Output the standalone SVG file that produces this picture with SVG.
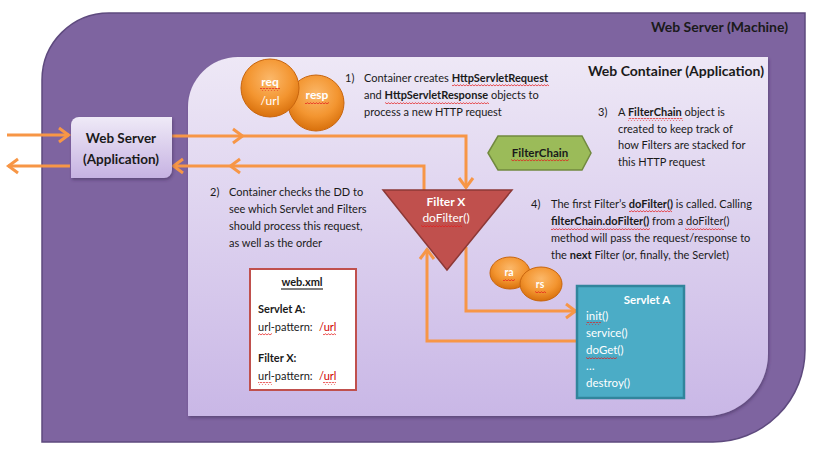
<svg xmlns="http://www.w3.org/2000/svg" width="819" height="454" viewBox="0 0 819 454">
<defs>
<style>
text{font-family:Lato,"Liberation Sans",sans-serif;fill:#1a1a1a}
.t{font-size:11px}
.b{font-weight:bold}
.title{font-size:14px;font-weight:bold}
.w{fill:#fff}
.conn{fill:none;stroke:#f79646;stroke-width:3}
.sq{fill:url(#zz)}
</style>
<pattern id="zz" patternUnits="userSpaceOnUse" width="3" height="3">
<path d="M0,2.2 L1.5,0.6 L3,2.2" fill="none" stroke="#e21b1b" stroke-width="0.8"/>
</pattern>
<linearGradient id="gInner" x1="0" y1="0" x2="0" y2="1">
<stop offset="0" stop-color="#eee8f6"/><stop offset="1" stop-color="#c9b7e6"/>
</linearGradient>
<linearGradient id="gWs" x1="0" y1="0" x2="0" y2="1">
<stop offset="0" stop-color="#efeaf7"/><stop offset="1" stop-color="#c6b2e2"/>
</linearGradient>
<radialGradient id="gOr" cx="0.5" cy="0.35" r="0.65">
<stop offset="0" stop-color="#fbb86a"/><stop offset="0.6" stop-color="#f39530"/><stop offset="1" stop-color="#d8700c"/>
</radialGradient>
<filter id="sh" x="-10%" y="-10%" width="120%" height="120%">
<feDropShadow dx="1" dy="2" stdDeviation="1.5" flood-color="#3a2a55" flood-opacity="0.5"/>
</filter>
<marker id="chev" markerUnits="userSpaceOnUse" markerWidth="20" markerHeight="20" viewBox="-12 -10 14 20" refX="0" refY="0" orient="auto">
<path d="M-10,-7 L-0.5,0 L-10,7" fill="none" stroke="#f79646" stroke-width="3"/>
</marker>
</defs>

<g id="machine">
<path d="M42,80 A67,67 0 0 1 109,13 H805 V350 A92,92 0 0 1 713,442 H42 Z" fill="#7e64a0" stroke="#5e4a7e" stroke-width="1.5"/>
<text class="title" x="788" y="32" text-anchor="end">Web Server (Machine)</text>
</g>

<g id="container">
<path d="M188,107 A50,50 0 0 1 238,57 H768 V354 A62,62 0 0 1 706,416 H188 Z" fill="url(#gInner)" filter="url(#sh)"/>
<text class="title" x="764" y="76" text-anchor="end">Web Container (Application)</text>
</g>

<g id="connectors">
<path class="conn" d="M7,135 H69" marker-end="url(#chev)"/>
<path class="conn" d="M70,166 H8" marker-end="url(#chev)"/>
<path class="conn" d="M172,136 H243" marker-end="url(#chev)"/>
<path class="conn" d="M243,136 H466 V188" marker-end="url(#chev)"/>
<path class="conn" d="M424,191 V166 H230" marker-end="url(#chev)"/>
<path class="conn" d="M230,166 H173" marker-end="url(#chev)"/>
<path class="conn" d="M466,247 V311 H576" marker-end="url(#chev)"/>
<path class="conn" d="M577,341 H427 V249" marker-end="url(#chev)"/>
</g>

<g id="webserver-app">
<path d="M79,117 H172 V170 A8,8 0 0 1 164,178 H71 V125 A8,8 0 0 1 79,117 Z" fill="url(#gWs)" filter="url(#sh)"/>
<text class="title" x="121" y="143" text-anchor="middle" style="font-size:13.5px">Web Server</text>
<text class="title" x="121" y="164" text-anchor="middle" style="font-size:13.5px">(Application)</text>
</g>

<g id="req-resp">
<circle cx="316" cy="103" r="28" fill="url(#gOr)" stroke="#c8650e" stroke-width="1"/>
<circle cx="270" cy="88" r="29" fill="url(#gOr)" stroke="#c8650e" stroke-width="1"/>
<text class="b w" x="270" y="86" text-anchor="middle" style="font-size:12px">req</text>
<text class="w" x="270" y="105" text-anchor="middle" style="font-size:12px">/url</text>
<text class="b w" x="317" y="99" text-anchor="middle" style="font-size:12px">resp</text>
<rect class="sq" x="260" y="88" width="20" height="3"/>
<rect class="sq" x="305" y="101" width="24" height="3"/>
</g>

<g id="note1">
<text class="t" x="345" y="82">1)</text>
<text class="t" x="364" y="82">Container creates <tspan class="b">HttpServletRequest</tspan></text>
<text class="t" x="364" y="99">and <tspan class="b">HttpServletResponse</tspan> objects to</text>
<text class="t" x="364" y="116">process a new HTTP request</text>
<rect class="sq" x="452" y="84" width="97" height="3"/>
<rect class="sq" x="385" y="101" width="104" height="3"/>
</g>

<g id="filterchain">
<polygon points="488,153 498,136 582,136 591,153 582,170 498,170" fill="#9bbb59" stroke="#71893f" stroke-width="1.5"/>
<text class="t b" x="540" y="157" text-anchor="middle" style="font-size:11.5px">FilterChain</text>
<rect class="sq" x="511" y="159" width="58" height="3"/>
</g>

<g id="note3">
<text class="t" x="598" y="116">3)</text>
<text class="t" x="618" y="116">A <tspan class="b">FilterChain</tspan> object is</text>
<text class="t" x="618" y="132.5">created to keep track of</text>
<text class="t" x="618" y="149">how Filters are stacked for</text>
<text class="t" x="618" y="165.5">this HTTP request</text>
<rect class="sq" x="628" y="118" width="55" height="3"/>
</g>

<g id="note2">
<text class="t" x="210" y="196">2)</text>
<text class="t" x="229" y="196">Container checks the DD to</text>
<text class="t" x="229" y="213">see which Servlet and Filters</text>
<text class="t" x="229" y="230">should process this request,</text>
<text class="t" x="229" y="246.5">as well as the order</text>
</g>

<g id="filterx">
<polygon points="383,190 512,190 447,270" fill="#c0504d" stroke="#8c3836" stroke-width="1.5"/>
<text class="b w" x="446" y="206" text-anchor="middle" style="font-size:12px">Filter X</text>
<text class="w" x="446" y="222" text-anchor="middle" style="font-size:12px">doFilter()</text>
<rect class="sq" x="421" y="224" width="41" height="3"/>
</g>

<g id="note4">
<text class="t" x="531" y="208">4)</text>
<text class="t" x="551" y="208">The first Filter’s <tspan class="b">doFilter()</tspan> is called. Calling</text>
<text class="t" x="551" y="225"><tspan class="b">filterChain.doFilter()</tspan>  from a doFilter()</text>
<text class="t" x="551" y="242">method will pass the request/response to</text>
<text class="t" x="551" y="258.5">the <tspan class="b">next</tspan> Filter (or, finally, the Servlet)</text>
<rect class="sq" x="629" y="210" width="43" height="3"/>
<rect class="sq" x="551" y="227" width="99" height="3"/>
<rect class="sq" x="685" y="227" width="39" height="3"/>
</g>

<g id="webxml">
<rect x="250" y="269" width="106" height="121" fill="#fff" stroke="#c0504d" stroke-width="2"/>
<text class="t b" x="302" y="286" text-anchor="middle">web.xml</text>
<line x1="281" y1="289" x2="323" y2="289" stroke="#000" stroke-width="1"/>
<text class="t b" x="258" y="313">Servlet A:</text>
<text class="t" x="258" y="331">url-pattern:  <tspan x="319" style="fill:#d00000">/url</tspan></text>
<text class="t b" x="258" y="362">Filter X:</text>
<text class="t" x="258" y="380">url-pattern:  <tspan x="319" style="fill:#d00000">/url</tspan></text>
<rect class="sq" x="258" y="333" width="14" height="3"/>
<rect class="sq" x="323" y="333" width="13" height="3"/>
<rect class="sq" x="258" y="382" width="14" height="3"/>
<rect class="sq" x="323" y="382" width="13" height="3"/>
</g>

<g id="ra-rs">
<ellipse cx="510" cy="273" rx="20" ry="16" fill="url(#gOr)" stroke="#c8650e" stroke-width="1"/>
<ellipse cx="541" cy="284" rx="21" ry="17" fill="url(#gOr)" stroke="#c8650e" stroke-width="1"/>
<text class="b w" x="509" y="276" text-anchor="middle" style="font-size:10.5px">ra</text>
<text class="b w" x="540" y="288" text-anchor="middle" style="font-size:10.5px">rs</text>
<rect class="sq" x="503" y="278" width="12" height="3"/>
<rect class="sq" x="535" y="290" width="11" height="3"/>
</g>

<g id="servlet-a">
<rect x="577" y="286" width="107" height="112" fill="#4bacc6" stroke="#31859c" stroke-width="2.5"/>
<text class="b w" x="647" y="304" text-anchor="middle" style="font-size:11.5px">Servlet A</text>
<text class="w" x="586" y="320" style="font-size:11.5px">init()</text>
<text class="w" x="586" y="337" style="font-size:11.5px">service()</text>
<text class="w" x="586" y="354" style="font-size:11.5px">doGet()</text>
<text class="w" x="586" y="370" style="font-size:11.5px">…</text>
<text class="w" x="586" y="387" style="font-size:11.5px">destroy()</text>
<rect class="sq" x="586" y="322" width="15" height="3"/>
<rect class="sq" x="586" y="356" width="31" height="3"/>
</g>
</svg>
